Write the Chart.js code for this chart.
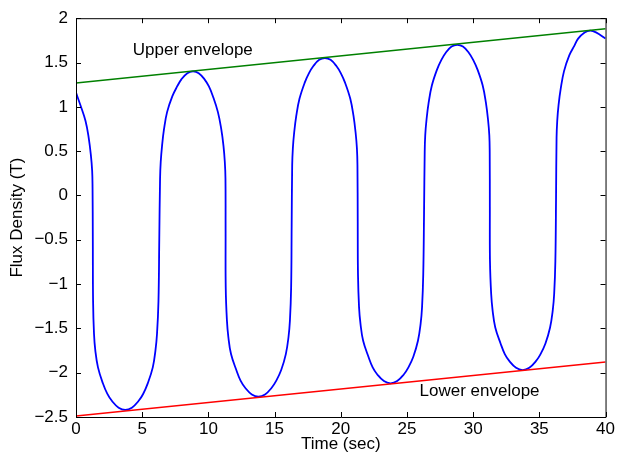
<!DOCTYPE html>
<html>
<head>
<meta charset="utf-8">
<script src="https://cdn.jsdelivr.net/npm/chart.js@4"></script>
<style>
  html, body { margin: 0; padding: 0; background: #fff; }
  #wrap { width: 617px; height: 467px; }
</style>
</head>
<body>
<div id="wrap"><canvas id="fluxPlot" width="617" height="467"></canvas></div>
<script>
// Data, one row per half cycle
const fluxTime = [
  0.00, 0.33, 0.72, 0.96, 1.12, 1.22, 1.25, 1.27, 1.29, 1.36, 1.46, 1.66, 2.03, 2.37, 2.72, 3.22, 3.72,
  4.22, 4.72, 5.07, 5.42, 5.80, 6.00, 6.12, 6.23, 6.29, 6.35, 6.40, 6.50, 6.65, 6.88, 7.28, 7.64, 7.96, 8.41, 8.84,
  9.27, 9.71, 10.04, 10.34, 10.72, 10.97, 11.14, 11.24, 11.29, 11.30, 11.31, 11.40, 11.51, 11.71, 12.11, 12.43, 12.78, 13.28, 13.78,
  14.28, 14.78, 15.13, 15.50, 15.85, 16.05, 16.16, 16.25, 16.29, 16.33, 16.38, 16.48, 16.64, 16.88, 17.27, 17.60, 17.93, 18.37, 18.80,
  19.23, 19.67, 20.00, 20.33, 20.72, 20.96, 21.12, 21.22, 21.26, 21.28, 21.30, 21.38, 21.49, 21.69, 22.09, 22.41, 22.76, 23.26, 23.76,
  24.26, 24.76, 25.11, 25.48, 25.83, 26.03, 26.14, 26.23, 26.29, 26.34, 26.38, 26.48, 26.64, 26.88, 27.27, 27.60, 27.93, 28.37, 28.80,
  29.23, 29.67, 30.00, 30.33, 30.72, 30.96, 31.12, 31.22, 31.25, 31.26, 31.27, 31.36, 31.47, 31.67, 32.07, 32.39, 32.74, 33.24, 33.74,
  34.24, 34.74, 35.09, 35.46, 35.81, 36.01, 36.12, 36.21, 36.26, 36.30, 36.35, 36.45, 36.62, 36.86, 37.26, 37.65, 37.93, 38.42, 38.85, 39.28, 40.00
];
const fluxValue = [
  1.16, 1.02, 0.84, 0.65, 0.46, 0.28, 0.09, -0.50, -1.19, -1.56, -1.75, -1.94, -2.12, -2.24, -2.32, -2.395, -2.42,
  -2.395, -2.32, -2.24, -2.12, -1.94, -1.75, -1.56, -1.19, -0.50, 0.19, 0.38, 0.56, 0.75, 0.94, 1.12, 1.23, 1.31, 1.38, 1.40,
  1.38, 1.31, 1.23, 1.12, 0.94, 0.75, 0.56, 0.38, 0.19, -0.40, -1.04, -1.41, -1.60, -1.79, -1.97, -2.09, -2.17, -2.245, -2.27,
  -2.245, -2.17, -2.09, -1.97, -1.79, -1.60, -1.41, -1.04, -0.35, 0.34, 0.53, 0.71, 0.90, 1.09, 1.27, 1.38, 1.46, 1.53, 1.55,
  1.53, 1.46, 1.38, 1.27, 1.09, 0.90, 0.71, 0.53, 0.34, -0.28, -0.89, -1.26, -1.45, -1.64, -1.82, -1.94, -2.02, -2.095, -2.12,
  -2.095, -2.02, -1.94, -1.82, -1.64, -1.45, -1.26, -0.89, -0.20, 0.49, 0.68, 0.86, 1.05, 1.24, 1.42, 1.53, 1.61, 1.68, 1.70,
  1.68, 1.61, 1.53, 1.42, 1.24, 1.05, 0.86, 0.68, 0.49, -0.13, -0.74, -1.11, -1.30, -1.49, -1.67, -1.79, -1.87, -1.945, -1.97,
  -1.945, -1.87, -1.79, -1.67, -1.49, -1.30, -1.11, -0.74, -0.05, 0.65, 0.84, 1.02, 1.21, 1.40, 1.58, 1.69, 1.77, 1.84, 1.86, 1.84, 1.77
];

// envelopes: straight lines, end points only
const envTime = [0, 40];
const upperEnv = [1.27, 1.88];
const lowerEnv = [-2.49, -1.88];

const xTicks = [0, 5, 10, 15, 20, 25, 30, 35, 40];
const yTicks = [-2.5, -2, -1.5, -1, -0.5, 0, 0.5, 1, 1.5, 2];

// text labels placed in data coords
const notes = [
  { text: 'Upper envelope', x: 4.29, y: 1.64 },
  { text: 'Lower envelope', x: 25.95, y: -2.21 }
];

const fontFam = 'Arial, "Liberation Sans", Helvetica, sans-serif';

function toPts(xs, ys) {
  return xs.map((x, i) => ({ x: x, y: ys[i] }));
}

// frame, inward tick marks and text notes (MATLAB style box)
const boxPlugin = {
  id: 'box',
  afterDraw(chart) {
    const ctx = chart.ctx;
    const a = chart.chartArea;
    const xs = chart.scales.x, ys = chart.scales.y;
    const tl = 5;
    ctx.save();
    ctx.strokeStyle = '#000';
    ctx.lineWidth = 1;
    ctx.beginPath();
    ctx.rect(a.left + 0.5, a.top + 0.5, a.right - a.left, a.bottom - a.top);
    xTicks.forEach(v => {
      const px = Math.round(xs.getPixelForValue(v)) + 0.5;
      ctx.moveTo(px, a.bottom); ctx.lineTo(px, a.bottom - tl);
      ctx.moveTo(px, a.top); ctx.lineTo(px, a.top + tl);
    });
    yTicks.forEach(v => {
      const py = Math.round(ys.getPixelForValue(v)) + 0.5;
      ctx.moveTo(a.left, py); ctx.lineTo(a.left + tl, py);
      ctx.moveTo(a.right, py); ctx.lineTo(a.right - tl, py);
    });
    ctx.stroke();

    ctx.fillStyle = '#000';
    ctx.font = '17px ' + fontFam;
    ctx.textBaseline = 'middle';
    ctx.textAlign = 'left';
    notes.forEach(n => {
      ctx.fillText(n.text, xs.getPixelForValue(n.x), ys.getPixelForValue(n.y));
    });
    ctx.restore();
  }
};

const data = {
  datasets: [
    {
      label: 'Upper envelope',
      data: toPts(envTime, upperEnv),
      borderColor: 'rgb(0, 128, 0)',
      borderWidth: 1.5,
      pointRadius: 0,
      showLine: true,
    },
    {
      label: 'Lower envelope',
      data: toPts(envTime, lowerEnv),
      borderColor: 'rgb(255, 0, 0)',
      borderWidth: 1.5,
      pointRadius: 0,
      showLine: true,
    },
    {
      label: 'Flux density',
      data: toPts(fluxTime, fluxValue),
      borderColor: 'rgb(0, 0, 255)',
      borderWidth: 1.8,
      pointRadius: 0,
      showLine: true,
      tension: 0.4, // smooth the hand-read points
    },
  ],
};

const options = {
  responsive: false,
  animation: false,
  devicePixelRatio: 1,
  layout: { padding: { top: 15, right: 10, left: 0, bottom: 0 } },
  plugins: {
    legend: { display: false },
    tooltip: { enabled: false },
  },
  scales: {
    x: {
      type: 'linear',
      min: 0,
      max: 40,
      grid: { display: false, drawTicks: false },
      border: { display: false },
      afterFit: s => { s.height = 50; },
      afterBuildTicks: s => { s.ticks = xTicks.map(v => ({ value: v })); },
      ticks: {
        color: '#000',
        padding: 2,
        maxRotation: 0,
        font: { size: 17, family: fontFam },
      },
      title: {
        display: true,
        text: 'Time (sec)',
        color: '#000',
        font: { size: 17, family: fontFam },
        padding: { top: 0, bottom: 12 },
      },
    },
    y: {
      type: 'linear',
      min: -2.5,
      max: 2,
      grid: { display: false, drawTicks: false },
      border: { display: false },
      afterFit: s => { s.width = 76; },
      afterBuildTicks: s => { s.ticks = yTicks.map(v => ({ value: v })); },
      ticks: {
        color: '#000',
        padding: 8,
        font: { size: 17, family: fontFam },
        callback: v => String(v).replace('-', '\u2212'),
      },
      title: {
        display: true,
        text: 'Flux Density (T)',
        color: '#000',
        font: { size: 17, family: fontFam },
        padding: { top: 7, bottom: 0 },
      },
    },
  },
};

document.addEventListener('DOMContentLoaded', function () {
  const ctx = document.getElementById('fluxPlot').getContext('2d');
  new Chart(ctx, {
    type: 'scatter',
    data: data,
    options: options,
    plugins: [boxPlugin],
  });
});
</script>
</body>
</html>
